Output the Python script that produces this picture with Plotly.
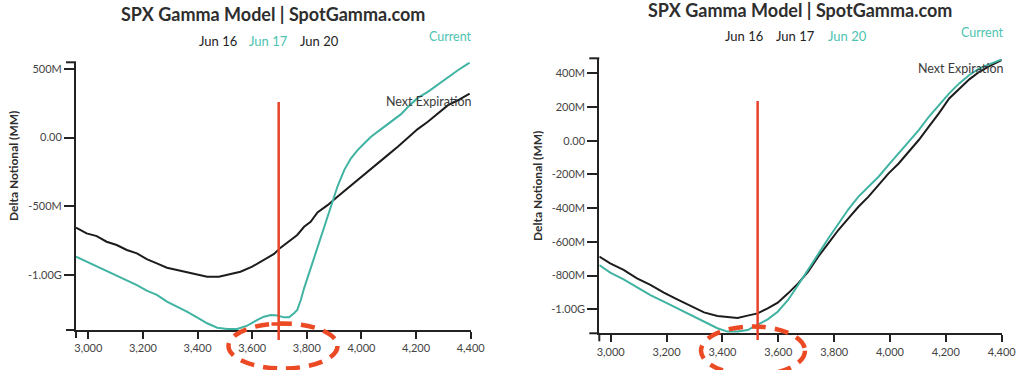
import plotly.graph_objects as go

W, H = 1024, 370

# ---------------- data (values in millions) ----------------
# Left panel: Jun 17 selected
left_next_x = [2955, 2994, 3031, 3067, 3104, 3141, 3178, 3214, 3251, 3288, 3325, 3361, 3398, 3435,
               3478, 3520, 3557, 3600, 3643, 3680, 3704, 3741, 3765, 3790, 3814, 3839, 3876, 3912,
               3949, 3986, 4023, 4059, 4096, 4133, 4170, 4206, 4243, 4280, 4317, 4353, 4396]
left_next_y = [-656, -697, -717, -758, -782, -818, -843, -884, -915, -947, -964, -981, -995, -1012,
               -1012, -993, -976, -939, -891, -847, -801, -746, -709, -649, -613, -545, -492, -431,
               -370, -303, -245, -189, -128, -68, -2, 61, 114, 174, 235, 271, 320]
left_cur_x = [2955, 2994, 3031, 3067, 3104, 3141, 3178, 3214, 3251, 3288, 3325, 3361, 3398, 3435,
              3472, 3508, 3545, 3582, 3619, 3643, 3668, 3692, 3716, 3735, 3753, 3765, 3778, 3790,
              3814, 3839, 3863, 3888, 3912, 3937, 3961, 3986, 4010, 4035, 4072, 4108, 4145, 4170,
              4206, 4243, 4280, 4317, 4353, 4396]
left_cur_y = [-867, -903, -932, -971, -1005, -1036, -1073, -1114, -1145, -1194, -1230, -1266, -1308,
              -1351, -1383, -1392, -1392, -1368, -1327, -1303, -1291, -1295, -1308, -1308, -1278,
              -1254, -1182, -1097, -952, -806, -661, -504, -358, -237, -153, -92, -44, 5, 61, 114,
              170, 222, 288, 332, 385, 441, 489, 545]
left_spot = 3697

# Right panel: Jun 20 selected
right_x = [2959, 2998, 3046, 3094, 3142, 3190, 3238, 3286, 3334, 3382, 3418, 3454, 3490, 3526,
           3562, 3598, 3635, 3671, 3707, 3743, 3779, 3815, 3851, 3887, 3923, 3959, 3995, 4031,
           4067, 4103, 4139, 4175, 4212, 4248, 4284, 4320, 4356, 4400]
right_next_y = [-688, -728, -767, -817, -856, -902, -942, -981, -1019, -1040, -1044, -1052, -1038,
                -1025, -995, -961, -906, -847, -777, -688, -609, -530, -461, -392, -332, -263,
                -194, -135, -65, 4, 83, 162, 251, 305, 364, 409, 443, 479]
right_cur_y = [-738, -783, -823, -870, -916, -955, -995, -1034, -1074, -1113, -1133, -1133, -1124,
               -1094, -1060, -1015, -945, -856, -767, -673, -580, -491, -407, -332, -273, -214,
               -144, -75, -6, 63, 142, 212, 281, 340, 390, 429, 455, 483]
right_spot = 3526

x_tickvals = [3000, 3200, 3400, 3600, 3800, 4000, 4200, 4400]
x_ticktext = ["3,000", "3,200", "3,400", "3,600", "3,800", "4,000", "4,200", "4,400"]
left_yticks = [500, 0, -500, -1000]
left_yticktext = ["500M", "0.00", "-500M", "-1.00G"]
right_yticks = [400, 200, 0, -200, -400, -600, -800, -1000]
right_yticktext = ["400M", "200M", "0.00", "-200M", "-400M", "-600M", "-800M", "-1.00G"]
dates = ["Jun 16", "Jun 17", "Jun 20"]
left_selected = "Jun 17"
right_selected = "Jun 20"
title_text = "SPX Gamma Model | SpotGamma.com"
ytitle_text = "Delta Notional (MM)"

# ---------------- styling ----------------
FONT = "Lato"
TEAL = "#40b3a2"
TEAL_TXT = "#4cc3b1"
BLACK = "#1c1c1c"
AXIS = "#222222"
RED = "#e8432a"
RED2 = "#ec4a24"


def px(x):
    return x / W


def py(y):
    return 1 - y / H


fig = go.Figure()
fig.add_trace(go.Scatter(x=left_next_x, y=left_next_y, mode="lines", line=dict(color=BLACK, width=2),
                         xaxis="x", yaxis="y", showlegend=False, hoverinfo="skip"))
fig.add_trace(go.Scatter(x=left_cur_x, y=left_cur_y, mode="lines", line=dict(color=TEAL, width=2),
                         xaxis="x", yaxis="y", showlegend=False, hoverinfo="skip"))
fig.add_trace(go.Scatter(x=right_x, y=right_next_y, mode="lines", line=dict(color=BLACK, width=2),
                         xaxis="x2", yaxis="y2", showlegend=False, hoverinfo="skip"))
fig.add_trace(go.Scatter(x=right_x, y=right_cur_y, mode="lines", line=dict(color=TEAL, width=2),
                         xaxis="x2", yaxis="y2", showlegend=False, hoverinfo="skip"))

panels = {
    "L": dict(xd=[76, 470.7], yd=[62.3, 330], xr=[2955, 4400], yr=[-1400, 547],
              yt=left_yticks, ytt=left_yticktext),
    "R": dict(xd=[599.3, 1001.7], yd=[58.3, 333.3], xr=[2959, 4400], yr=[-1143, 489],
              yt=right_yticks, ytt=right_yticktext),
}

axcommon = dict(showgrid=False, zeroline=False, showline=True, linecolor=AXIS, linewidth=2,
                ticks="outside", tickcolor=AXIS, tickwidth=2, automargin=False,
                tickfont=dict(family=FONT, size=11, color="#444444"), fixedrange=True)

layout_axes = {}
for i, key in enumerate(["L", "R"]):
    p = panels[key]
    sfx = "" if i == 0 else "2"
    layout_axes["xaxis" + sfx] = dict(axcommon, domain=[px(p["xd"][0]), px(p["xd"][1])],
                                      range=p["xr"], tickvals=x_tickvals, ticktext=x_ticktext,
                                      ticklen=7, anchor="y" + sfx)
    layout_axes["yaxis" + sfx] = dict(axcommon, domain=[py(p["yd"][1]), py(p["yd"][0])],
                                      range=p["yr"], tickvals=p["yt"], ticktext=p["ytt"],
                                      ticklen=10, anchor="x" + sfx)

shapes = []
for key in ["L", "R"]:
    p = panels[key]
    x0, x1 = px(p["xd"][0]), px(p["xd"][1])
    yb, yt = py(p["yd"][1]), py(p["yd"][0])
    line = dict(color=AXIS, width=2)
    # outer ticks of axis domains
    shapes.append(dict(type="line", xref="paper", yref="paper", x0=px(p["xd"][0] - 10), x1=x0,
                       y0=yt, y1=yt, line=line))
    shapes.append(dict(type="line", xref="paper", yref="paper", x0=px(p["xd"][0] - 10), x1=x0,
                       y0=yb, y1=yb, line=line))
    shapes.append(dict(type="line", xref="paper", yref="paper", x0=x0, x1=x0,
                       y0=yb, y1=py(p["yd"][1] + 8), line=line))

# spot lines
shapes.append(dict(type="line", xref="x", yref="paper", x0=left_spot, x1=left_spot,
                   y0=py(340), y1=py(102), line=dict(color=RED, width=2.5)))
shapes.append(dict(type="line", xref="x2", yref="paper", x0=right_spot, x1=right_spot,
                   y0=py(340), y1=py(101), line=dict(color=RED, width=2.5)))
# hand-drawn highlight marks
shapes.append(dict(type="line", xref="paper", yref="paper", x0=px(271.5), x1=px(288.5),
                   y0=py(324), y1=py(324), line=dict(color=RED2, width=3.5)))
shapes.append(dict(type="circle", xref="paper", yref="paper", x0=px(228.5), x1=px(337.5),
                   y0=py(368.5), y1=py(323.5), line=dict(color=RED2, width=4.5, dash="14px,9px")))
shapes.append(dict(type="circle", xref="paper", yref="paper", x0=px(701), x1=px(805),
                   y0=py(375), y1=py(326.5), line=dict(color=RED2, width=4.5, dash="14px,9px")))

ann = []


def text(x, y, s, size, color, bold=False, xanchor="center", angle=0):
    ann.append(dict(x=px(x), y=py(y), xref="paper", yref="paper", text=("<b>%s</b>" % s) if bold else s,
                    showarrow=False, xanchor=xanchor, yanchor="middle", textangle=angle,
                    font=dict(family=FONT, size=size, color=color)))


# titles
text(272.5, 14, title_text, 18, "#2e2e2e", bold=True)
text(799.5, 10, title_text, 18, "#2e2e2e", bold=True)
# date selectors
for d, xc in zip(dates, [218.3, 268.3, 319]):
    text(xc, 40.7, d, 13, TEAL_TXT if d == left_selected else "#222222")
for d, xc in zip(dates, [743.7, 795.3, 847]):
    text(xc, 36, d, 13, TEAL_TXT if d == right_selected else "#222222")
# line labels
text(474, 36, "Current", 12.5, TEAL_TXT, xanchor="right")
text(474, 101.7, "Next Expiration", 12.5, "#3a3a3a", xanchor="right")
text(1005.5, 32.3, "Current", 12.5, TEAL_TXT, xanchor="right")
text(1005.5, 68.3, "Next Expiration", 12.5, "#3a3a3a", xanchor="right")
# y titles
text(13, 166, ytitle_text, 12, "#2e2e2e", bold=True, angle=-90)
text(537, 186, ytitle_text, 12, "#2e2e2e", bold=True, angle=-90)

fig.update_layout(width=W, height=H, margin=dict(l=0, r=0, t=0, b=0, autoexpand=False),
                  paper_bgcolor="white", plot_bgcolor="white", showlegend=False,
                  shapes=shapes, annotations=ann, **layout_axes)

fig.write_html("out.html", config={"displayModeBar": False},
               post_script="document.body.style.margin='0px';document.body.style.padding='0px';")
